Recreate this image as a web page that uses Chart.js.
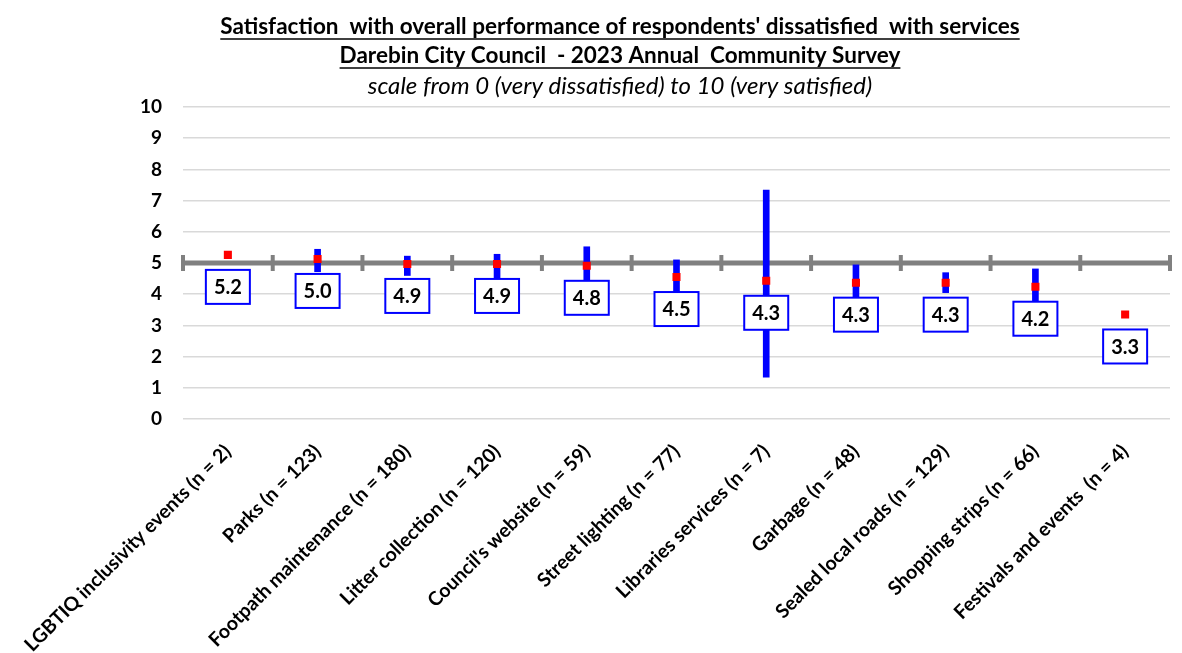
<!DOCTYPE html>
<html>
<head>
<meta charset="utf-8">
<script src="https://cdn.jsdelivr.net/npm/chart.js@4.4.1/dist/chart.umd.min.js"></script>
<style>
  html, body { margin: 0; padding: 0; background: #fff; }
</style>
</head>
<body>
<canvas id="chart" width="1182" height="653"></canvas>
<script>
// chart data
const categories = [
  "LGBTIQ inclusivity events (n = 2)",
  "Parks (n = 123)",
  "Footpath maintenance (n = 180)",
  "Litter collection (n = 120)",
  "Council's website (n = 59)",
  "Street lighting (n = 77)",
  "Libraries services (n = 7)",
  "Garbage (n = 48)",
  "Sealed local roads (n = 129)",
  "Shopping strips (n = 66)",
  "Festivals and events  (n = 4)"
];
const means = [5.26, 5.13, 4.97, 4.97, 4.91, 4.55, 4.43, 4.37, 4.37, 4.24, 3.35];
const meanLabels = ["5.2", "5.0", "4.9", "4.9", "4.8", "4.5", "4.3", "4.3", "4.3", "4.2", "3.3"];
const ciLower = [null, 4.72, 4.60, 4.51, 4.45, 4.00, 1.34, 3.80, 4.05, 3.67, null];
const ciUpper = [null, 5.44, 5.22, 5.28, 5.52, 5.10, 7.34, 4.94, 4.69, 4.81, null];
const yTicks = [0, 1, 2, 3, 4, 5, 6, 7, 8, 9, 10];
const benchmark = 5;

const titleLines = [
  "Satisfaction  with overall performance of respondents' dissatisfied  with services",
  "Darebin City Council  - 2023 Annual  Community Survey"
];
const subtitle = "scale from 0 (very dissatisfied) to 10 (very satisfied)";

const FONT = "Lato, 'Open Sans', sans-serif";

// titles (underlined) drawn straight on the canvas
const titlePlugin = {
  id: "titles",
  afterDraw(chart) {
    const ctx = chart.ctx;
    const cx = 620;
    ctx.save();
    ctx.fillStyle = "#000";
    ctx.strokeStyle = "#000";
    ctx.textAlign = "center";
    ctx.textBaseline = "middle";
    ctx.font = "bold 22.5px " + FONT;
    titleLines.forEach((t, i) => {
      const y = 27 + i * 29;
      ctx.fillText(t, cx, y);
      const w = ctx.measureText(t).width;
      ctx.lineWidth = 1.5;
      ctx.beginPath();
      ctx.moveTo(cx - w / 2, y + 12);
      ctx.lineTo(cx + w / 2, y + 12);
      ctx.stroke();
    });
    ctx.font = "italic 24px " + FONT;
    ctx.fillText(subtitle, cx, 86);
    ctx.restore();
  }
};

// grey line at 5 with little ticks between categories
const benchmarkPlugin = {
  id: "benchmark",
  beforeDatasetsDraw(chart) {
    const ctx = chart.ctx;
    const xs = chart.scales.x;
    const y = chart.scales.y.getPixelForValue(benchmark);
    const area = chart.chartArea;
    ctx.save();
    ctx.strokeStyle = "#808080";
    ctx.lineWidth = 5;
    ctx.beginPath();
    ctx.moveTo(area.left, y);
    ctx.lineTo(area.right, y);
    ctx.stroke();
    ctx.lineWidth = 4;
    for (let i = 0; i <= categories.length; i++) {
      const x = xs.getPixelForValue(i - 0.5);
      ctx.beginPath();
      ctx.moveTo(x, y - 8);
      ctx.lineTo(x, y + 8);
      ctx.stroke();
    }
    ctx.restore();
  }
};

// boxed value labels under each marker
const boxLabelPlugin = {
  id: "boxLabels",
  afterDatasetsDraw(chart) {
    const ctx = chart.ctx;
    const meta = chart.getDatasetMeta(0);
    ctx.save();
    ctx.font = "bold 20px " + FONT;
    ctx.textAlign = "center";
    ctx.textBaseline = "middle";
    meta.data.forEach((pt, i) => {
      const bx = pt.x, by = pt.y + 32;
      const w = 44, h = 34;
      ctx.fillStyle = "#fff";
      ctx.fillRect(bx - w / 2, by - h / 2, w, h);
      ctx.strokeStyle = "#0000ff";
      ctx.lineWidth = 2;
      ctx.strokeRect(bx - w / 2, by - h / 2, w, h);
      ctx.fillStyle = "#000";
      ctx.fillText(meanLabels[i], bx, by + 1);
    });
    ctx.restore();
  }
};

const ctx = document.getElementById("chart").getContext("2d");
new Chart(ctx, {
  data: {
    labels: categories,
    datasets: [
      {
        type: "line",
        label: "Mean",
        data: means,
        showLine: false,
        pointStyle: "rect",
        pointRadius: 5.7,
        pointBorderWidth: 0,
        pointBackgroundColor: "#ff0000",
        pointBorderColor: "#ff0000",
        order: 0
      },
      {
        type: "bar",
        label: "95% confidence interval",
        data: ciLower.map((lo, i) => (lo === null ? null : [lo, ciUpper[i]])),
        backgroundColor: "#0000ff",
        barThickness: 6,
        order: 1
      }
    ]
  },
  options: {
    responsive: false,
    animation: false,
    layout: { padding: { top: 107, right: 12, left: 0, bottom: 0 } },
    plugins: {
      legend: { display: false },
      tooltip: { enabled: false },
      title: { display: false }
    },
    scales: {
      x: {
        offset: true,
        grid: { display: false },
        border: { display: false },
        ticks: {
          autoSkip: false,
          minRotation: 45,
          maxRotation: 45,
          padding: 13,
          color: "#000",
          font: { family: FONT, size: 19.5, weight: "bold" }
        },
        afterFit(scale) { scale.height = 234; }
      },
      y: {
        min: 0,
        max: 10,
        afterBuildTicks(scale) { scale.ticks = yTicks.map(v => ({ value: v })); },
        grid: { color: "#d9d9d9", lineWidth: 1.5, drawTicks: false },
        border: { display: false },
        ticks: {
          padding: 21,
          color: "#000",
          font: { family: FONT, size: 19, weight: "bold" }
        },
        afterFit(scale) { scale.width = 183; }
      }
    }
  },
  plugins: [titlePlugin, benchmarkPlugin, boxLabelPlugin]
});
</script>
</body>
</html>
